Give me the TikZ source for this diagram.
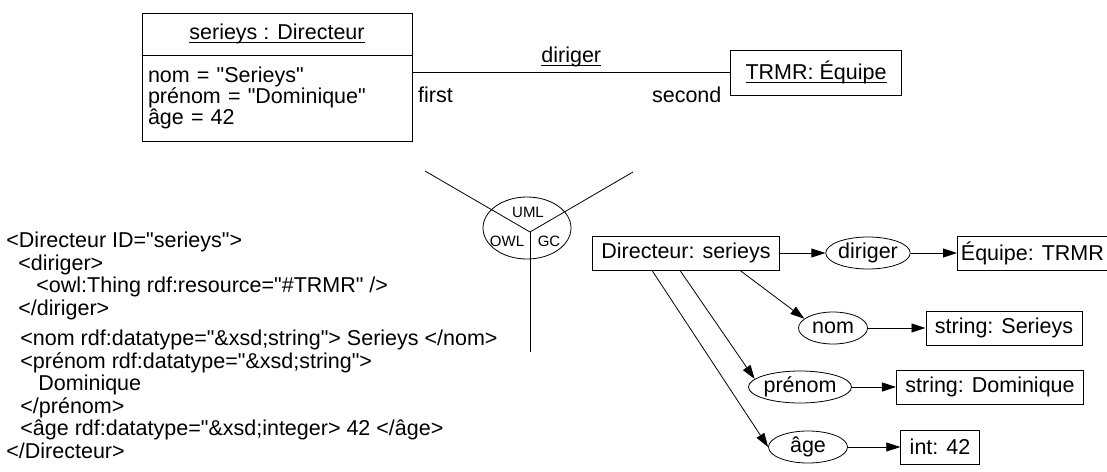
\documentclass[tikz,border=0pt]{standalone}
\usepackage{amsmath}
\usepackage{fontspec}
\setmainfont{Liberation Sans}[Ligatures=TeXOff]
\usetikzlibrary{arrows.meta, positioning, shapes.geometric}
\newcommand{\ulabel}[1]{\underline{\smash[b]{#1}}}

\begin{document}
\begin{tikzpicture}[x=1pt, y=-1pt, >={Triangle[length=14pt,width=9pt]},
  font=\fontsize{21.5}{19.5}\selectfont, line width=0.8pt,
  box/.style={draw, rectangle, inner xsep=9pt, minimum height=34pt},
  prop/.style={draw, ellipse, inner sep=0pt, minimum height=32pt},
  lang/.style={font=\fontsize{15}{15}\selectfont, inner sep=0pt}]
  \useasboundingbox (0,0) rectangle (1107,471);

  % UML object diagram
  \node[draw, minimum width=270pt, minimum height=42pt] (objhead) at (277,34) {\ulabel{serieys : Directeur}};
  \node[draw, minimum width=270pt, minimum height=86pt, text width=258pt, align=left] (objattr) at (277,98)
    {nom = "Serieys"\\ prénom = "Dominique"\\ âge = 42};
  \node[draw, minimum width=171pt, minimum height=45pt] (trmr) at (816,72.5) {\ulabel{TRMR: Équipe}};
  \draw (trmr.west -| objattr.east) -- node[above=2pt] {\ulabel{diriger}}
    node[at start, below right=11pt and 2pt] {first}
    node[at end, below left=11pt and 5pt] {second} (trmr.west);

  % UML / OWL / GC
  \coordinate (hub) at (530,232);
  \coordinate (uml left) at (425,171);
  \coordinate (uml right) at (633,172);
  \coordinate (owl gc) at (530,352);
  \node[draw, ellipse, minimum width=88pt, minimum height=62pt, inner sep=0pt] (langs) at (527,228) {};
  \draw (uml left) -- (hub) -- (uml right);
  \draw (hub) -- (owl gc);
  \node[lang] (uml) at (528,212) {UML};
  \node[lang] (owl) at (507,241) {OWL};
  \node[lang] (gc) at (549,241) {GC};

  % OWL serialisation
  \node[anchor=north west, align=left, inner sep=0pt, font=\fontsize{21.5}{22.5}\selectfont] (xml) at (6,232) {%
    <Directeur ID="serieys">\\
    \hspace*{12pt}<diriger>\\
    \hspace*{30pt}<owl:Thing rdf:resource="\#TRMR" />\\
    \hspace*{12pt}</diriger>\\[8pt]
    \hspace*{14pt}<nom rdf:datatype="\&xsd;string"> Serieys </nom>\\
    \hspace*{14pt}<prénom rdf:datatype="\&xsd;string">\\
    \hspace*{32pt}Dominique\\
    \hspace*{14pt}</prénom>\\
    \hspace*{14pt}<âge rdf:datatype="\&xsd;integer> 42 </âge>\\
    </Directeur>};

  % conceptual graph
  \node[box] (dir) at (686,253) {Directeur: serieys};
  \node[prop, minimum width=78pt] (dirig) at (868,253) {diriger};
  \node[box, anchor=west, inner xsep=3.5pt] (team) at (957,253) {Équipe: TRMR};
  \node[prop, minimum width=69pt] (nom) at (833,328) {nom};
  \node[box] (nomval) at (1004,328) {string: Serieys};
  \node[prop, minimum width=95pt] (prenom) at (800,387) {prénom};
  \node[box] (prenomval) at (990,387) {string: Dominique};
  \node[prop, minimum width=79pt] (age) at (808,447) {âge};
  \node[box] (ageval) at (940,447) {int: 42};

  \draw[->] (dir) -- (dirig);
  \draw[->] (dirig) -- (team);
  \draw[->] (nom) -- (nomval);
  \draw[->] (prenom) -- (prenomval);
  \draw[->] (age) -- (ageval);
  \draw[->] ([xshift=54pt]dir.south) -- (nom.162);
  \draw[->] ([xshift=-6pt]dir.south) -- (prenom.170);
  \draw[->] ([xshift=-34pt]dir.south) -- (age.west);
\end{tikzpicture}
\end{document}
